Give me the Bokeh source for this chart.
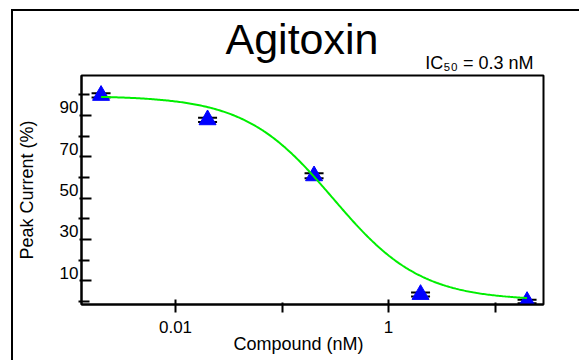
import numpy as np
from bokeh.plotting import figure
from bokeh.models import (FixedTicker, Title, Whisker, TeeHead, LinearAxis,
                          ColumnDataSource, Range1d, InlineStyleSheet)
from bokeh.embed import file_html
from bokeh.resources import INLINE

# ---------------- data ----------------
title_text = "Agitoxin"
ic50_text = "IC\u2085\u2080 = 0.3 nM"
x_title = "Compound (nM)"
y_title = "Peak Current (%)"

concentration = [0.002, 0.02, 0.2, 2, 20]
peak_current = [99.7, 87.9, 60.8, 3.4, 0.0]
peak_error = [1.0, 1.0, 1.2, 1.0, 0.8]

# Hill fit parameters (IC50 = 0.3 nM)
fit_top = 99.5
fit_bottom = 0.5
fit_ic50 = 0.3
fit_hill = 1.05

x_tick_values = [0.01, 1]
x_tick_labels = ["0.01", "1"]
x_minor_ticks = [0.1, 10]
y_tick_values = [10, 30, 50, 70, 90]
y_tick_labels = ["10", "30", "50", "70", "90"]
y_minor_ticks = [0, 20, 40, 60, 80, 100]

# ---------------- geometry ----------------
W, H = 579, 360
FL, FR, FT, FB = 81, 543, 75, 304
DEC_PX = 106.5      # px per decade
X_REF_PX = 175      # px position of 0.01
UNIT_PX = 2.067     # px per % unit
Y0_PX = 301         # px position of 0 %
LABEL_SHIFT = 8     # y tick labels sit 8 px above their ticks


def px_x(px):
    return 10 ** (-2 + (px - X_REF_PX) / DEC_PX)


def px_y(py):
    return (Y0_PX - py) / UNIT_PX


FONT = "Liberation Sans"

border_css = InlineStyleSheet(css="""
:host::after {
  content: "";
  position: absolute;
  left: 11px; top: 9px; right: 0px; bottom: 0px;
  border-left: 2px solid black;
  border-top: 2px solid black;
  pointer-events: none;
}
""")

p = figure(width=W, height=H, x_axis_type="log",
           x_range=Range1d(px_x(FL), px_x(FR)),
           y_range=Range1d(px_y(FB), px_y(FT)),
           min_border_left=FL, min_border_right=W - FR,
           min_border_top=FT, min_border_bottom=H - FB,
           output_backend="svg", toolbar_location=None)
p.stylesheets = [border_css]
p.background_fill_color = "white"
p.border_fill_color = "white"
p.outline_line_color = "black"
p.outline_line_width = 2
p.grid.visible = False

# titles
p.add_layout(Title(text=ic50_text, align="right", offset=10, standoff=5,
                   text_font=FONT, text_font_size="18px",
                   text_font_style="normal", text_color="black"), "above")
p.title.text = title_text
p.title.align = "left"
p.title.offset = 225 - FL
p.title.standoff = -29
p.title.text_font = FONT
p.title.text_font_size = "43px"
p.title.text_font_style = "normal"
p.title.text_color = "black"

# x axis
xa = p.xaxis[0]
xa.ticker = FixedTicker(ticks=x_tick_values, minor_ticks=x_minor_ticks)
xa.major_label_overrides = dict(zip(x_tick_values, x_tick_labels))
xa.axis_line_width = 2
xa.major_tick_line_width = 2
xa.minor_tick_line_width = 2
xa.major_tick_in = 5
xa.major_tick_out = 8
xa.minor_tick_in = 2
xa.minor_tick_out = 8
xa.major_label_standoff = 8
xa.major_label_text_font = FONT
xa.major_label_text_font_size = "17px"
xa.major_label_text_color = "black"
p.add_layout(Title(text=x_title, align="left", offset=233 - FL, standoff=-3,
                   vertical_align="top",
                   text_font=FONT, text_font_size="18px",
                   text_font_style="normal", text_color="black"), "below")

# y axis: ticks on the main axis
ya = p.yaxis[0]
ya.ticker = FixedTicker(ticks=y_tick_values, minor_ticks=y_minor_ticks)
ya.major_label_overrides = {v: "" for v in y_tick_values}
ya.axis_line_width = 2
ya.major_tick_line_width = 2
ya.minor_tick_line_width = 2
ya.major_tick_in = 10
ya.major_tick_out = 2
ya.minor_tick_in = 8
ya.minor_tick_out = 3
ya.major_label_standoff = 0

# y axis labels: second axis on a range shifted so labels sit above ticks
shift = LABEL_SHIFT / UNIT_PX
p.extra_y_ranges = {"ylab": Range1d(px_y(FB) - shift, px_y(FT) - shift)}
yl = LinearAxis(y_range_name="ylab",
                ticker=FixedTicker(ticks=y_tick_values, minor_ticks=[]),
                major_label_overrides=dict(zip(y_tick_values, y_tick_labels)),
                axis_line_color=None, major_tick_line_color=None,
                minor_tick_line_color=None,
                major_tick_in=0, major_tick_out=0,
                minor_tick_in=0, minor_tick_out=0,
                major_label_standoff=0,
                major_label_text_font=FONT, major_label_text_font_size="17px",
                major_label_text_color="black",
                axis_label=y_title, axis_label_standoff=20,
                axis_label_text_font=FONT, axis_label_text_font_size="18px",
                axis_label_text_font_style="normal",
                axis_label_text_color="black")
p.add_layout(yl, "left")

# ---------------- marks ----------------
src = ColumnDataSource(dict(
    x=concentration, y=peak_current,
    lo=[v - e for v, e in zip(peak_current, peak_error)],
    hi=[v + e for v, e in zip(peak_current, peak_error)],
))
wh = Whisker(base="x", lower="lo", upper="hi", source=src,
             line_color="black", line_width=2,
             upper_head=TeeHead(size=19, line_color="black", line_width=2),
             lower_head=TeeHead(size=19, line_color="black", line_width=2))
p.add_layout(wh)

p.scatter("x", "y", source=src, marker="triangle", size=17,
          fill_color="#0000ff", line_color="#0000ff", line_width=1)

xfit = np.logspace(np.log10(concentration[0]), np.log10(concentration[-1]), 300)
yfit = fit_bottom + (fit_top - fit_bottom) / (1 + (xfit / fit_ic50) ** fit_hill)
p.line(xfit, yfit, line_color="#00ee00", line_width=2)

open("out.html", "w").write(file_html(p, INLINE))
